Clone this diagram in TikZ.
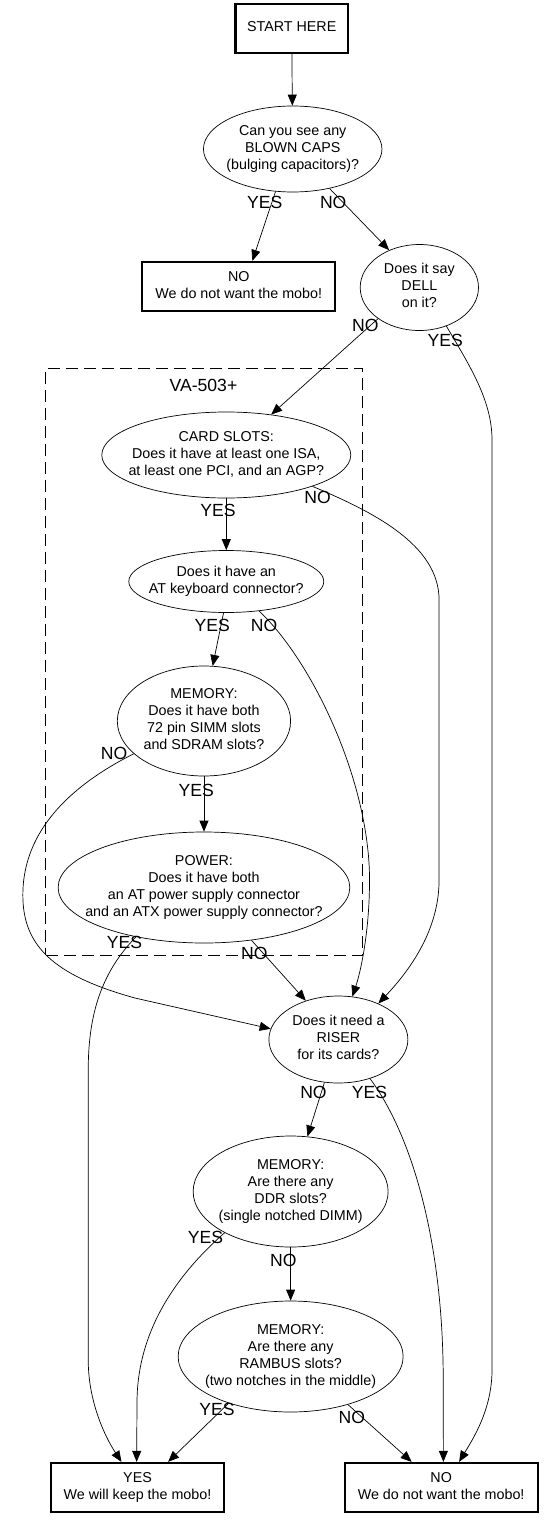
\documentclass[tikz,border=0pt]{standalone}
\usepackage{fontspec}
\setmainfont{Liberation Sans}
\usetikzlibrary{arrows.meta,shapes.geometric}
\newcommand{\mlines}[1]{\makebox[0pt]{\begin{tabular}{@{}c@{}}#1\end{tabular}}}
\begin{document}
\begin{tikzpicture}[x=1.038pt,y=-1pt,
  q/.style={ellipse,draw,line width=0.7pt,inner sep=0pt,font=\fontsize{14.3}{17}\selectfont},
  term/.style={rectangle,draw,line width=2.3pt,inner sep=0pt,font=\fontsize{14.3}{17}\selectfont},
  lab/.style={font=\fontsize{17.6}{20}\selectfont,inner sep=0pt},
  arr/.style={line width=0.7pt,-{Triangle[length=11pt,width=9pt]}},
  cluster/.style={draw,line width=0.7pt,dash pattern=on 12pt off 6pt,inner sep=0pt}
]
\useasboundingbox (0,0) rectangle (524.08,1528);

% cluster
\node[cluster,minimum width=316.6pt,minimum height=587pt] (clu) at (196.5,661.5) {};
\node[lab] (clulab) at (196,385) {VA-503+};

% nodes
\node[term,minimum width=112.5pt,minimum height=49pt] (start) at (281,28.5) {\mlines{START HERE}};
\node[q,minimum width=178.5pt,minimum height=86pt] (blown) at (282,149) {\mlines{Can you see any\\BLOWN CAPS\\(bulging capacitors)?}};
\node[term,minimum width=193pt,minimum height=49pt] (nobox1) at (230,286.5) {\mlines{NO\\We do not want the mobo!}};
\node[q,minimum width=118.3pt,minimum height=86pt] (dell) at (404,287.5) {\mlines{Does it say\\DELL\\on it?}};
\node[q,minimum width=249pt,minimum height=86pt] (card) at (218,455) {\mlines{CARD SLOTS:\\Does it have at least one ISA,\\at least one PCI, and an AGP?}};
\node[q,minimum width=195pt,minimum height=62pt] (atkb) at (218,581.5) {\mlines{Does it have an\\AT keyboard connector?}};
\node[q,minimum width=173.3pt,minimum height=110pt] (simm) at (196.5,721) {\mlines{MEMORY:\\Does it have both\\72 pin SIMM slots\\and SDRAM slots?}};
\node[q,minimum width=291.7pt,minimum height=111pt] (power) at (196.5,887.5) {\mlines{POWER:\\Does it have both\\an AT power supply connector\\and an ATX power supply connector?}};
\node[q,minimum width=139pt,minimum height=87pt] (riser) at (326,1039.5) {\mlines{Does it need a\\RISER\\for its cards?}};
\node[q,minimum width=195pt,minimum height=111pt] (ddr) at (280,1191.5) {\mlines{MEMORY:\\Are there any\\DDR slots?\\(single notched DIMM)}};
\node[q,minimum width=225pt,minimum height=111pt] (rambus) at (280,1356.5) {\mlines{MEMORY:\\Are there any\\RAMBUS slots?\\(two notches in the middle)}};
\node[term,minimum width=173.3pt,minimum height=49pt] (ybox) at (132.5,1487.5) {\mlines{YES\\We will keep the mobo!}};
\node[term,minimum width=193pt,minimum height=49pt] (nobox2) at (425,1487.5) {\mlines{NO\\We do not want the mobo!}};

% connectors
\draw[arr] (start) -- (blown);
\draw[arr] (blown.-112) -- (nobox1.62);
\draw[arr] (blown.-47) -- (dell.129);
\draw[arr] (dell.-143) -- (card.42);
\draw[arr] (dell.-55) .. controls (452,365) and (474,400) .. (474,440) -- (474,1370) .. controls (474,1410) and (455,1440) .. (nobox2.55);
\draw[arr] (card) -- (atkb);
\draw[arr] (card.-20) .. controls (360,512) and (423,545) .. (423,600) -- (423,880) .. controls (423,930) and (395,970) .. (riser.42);
\draw[arr] (atkb.-95) -- (simm.81);
\draw[arr] (atkb.-42) .. controls (300,660) and (356,780) .. (356,880) .. controls (356,930) and (348,970) .. (riser.72);
\draw[arr] (simm.-155) .. controls (50,795) and (22,845) .. (22,895) .. controls (22,945) and (50,975) .. (130,998) -- (riser.171);
\draw[arr] (simm) -- (power);
\draw[arr] (power.-144) .. controls (100,970) and (85,1010) .. (85,1070) -- (85,1360) .. controls (85,1400) and (100,1435) .. (ybox.122);
\draw[arr] (power.-48) -- (riser.130);
\draw[arr] (riser.-108) -- (ddr.73);
\draw[arr] (riser.-51) .. controls (400,1140) and (427,1250) .. (427,1380) -- (nobox2.85);
\draw[arr] (ddr) -- (rambus);
\draw[arr] (ddr.-148) .. controls (170,1275) and (133,1330) .. (132,1400) -- (ybox.92);
\draw[arr] (rambus.-143) -- (ybox.40);
\draw[arr] (rambus.-40) -- (nobox2.139);

% edge labels
\node[lab] (l1) at (255,202) {YES};
\node[lab] (l2) at (321,202) {NO};
\node[lab] (l3) at (352,325) {NO};
\node[lab] (l4) at (429,340) {YES};
\node[lab] (l5) at (210,510) {YES};
\node[lab] (l6) at (306,497) {NO};
\node[lab] (l7) at (204.5,625) {YES};
\node[lab] (l8) at (254.5,625) {NO};
\node[lab] (l9) at (110,753) {NO};
\node[lab] (l10) at (189,790) {YES};
\node[lab] (l11) at (120,942) {YES};
\node[lab] (l12) at (245,953) {NO};
\node[lab] (l13) at (302,1092) {NO};
\node[lab] (l14) at (356,1092) {YES};
\node[lab] (l15) at (273,1260) {NO};
\node[lab] (l16) at (198,1237) {YES};
\node[lab] (l17) at (209,1409) {YES};
\node[lab] (l18) at (339,1417) {NO};
\end{tikzpicture}
\end{document}
